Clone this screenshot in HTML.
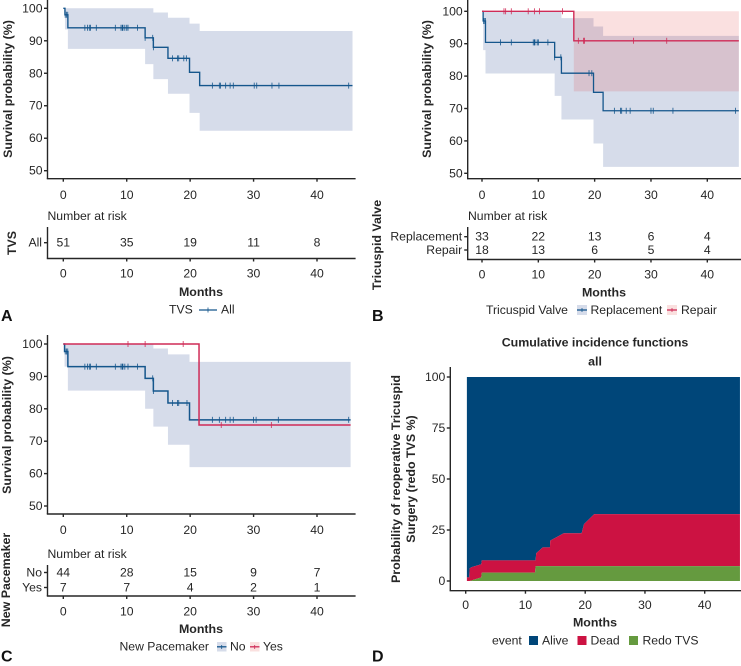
<!DOCTYPE html>
<html lang="en">
<head>
<meta charset="utf-8">
<title>Survival and cumulative incidence panels</title>
<style>
html,body{margin:0;padding:0;background:#fff;width:741px;height:666px;overflow:hidden}
svg{display:block;font-family:"Liberation Sans",sans-serif;fill:#262626;font-size:12.2px}
.ttl{font-weight:bold;font-size:12.4px}
.let{font-weight:bold;font-size:16px;fill:#111}
</style>
</head>
<body>
<svg id="figure" xmlns="http://www.w3.org/2000/svg" width="741" height="666" viewBox="0 0 741 666">
  <g id="static-labels">
    <text x="8" y="89" class="ttl" text-anchor="middle" dominant-baseline="central" transform="rotate(-90 8 89)">Survival probability (%)</text>
    <text x="47.5" y="216" dominant-baseline="central">Number at risk</text>
    <text x="12" y="243" class="ttl" text-anchor="middle" dominant-baseline="central" transform="rotate(-90 12 243)">TVS</text>
    <text x="201" y="292" class="ttl" text-anchor="middle" dominant-baseline="central">Months</text>
    <text x="169" y="309.5" dominant-baseline="central">TVS</text>
    <g>
      <line x1="199" x2="217" y1="310" y2="310" stroke="#15568c" stroke-width="1.3"/>
      <line x1="208" x2="208" y1="307.5" y2="312.5" stroke="#15568c" stroke-width="0.8"/>
    </g>
    <text x="221" y="309.5" dominant-baseline="central">All</text>
    <text x="1" y="316.5" class="let" dominant-baseline="central">A</text>

    <text x="427" y="89" class="ttl" text-anchor="middle" dominant-baseline="central" transform="rotate(-90 427 89)">Survival probability (%)</text>
    <text x="468" y="216" dominant-baseline="central">Number at risk</text>
    <text x="377" y="245" class="ttl" text-anchor="middle" dominant-baseline="central" transform="rotate(-90 377 245)">Tricuspid Valve</text>
    <text x="604" y="292.5" class="ttl" text-anchor="middle" dominant-baseline="central">Months</text>
    <text x="486" y="310" dominant-baseline="central">Tricuspid Valve</text>
    <g>
      <rect x="577" y="305" width="10" height="10" fill="#d6dcea"/>
      <line x1="577" x2="587" y1="310" y2="310" stroke="#15568c" stroke-width="1.3"/>
      <line x1="582" x2="582" y1="308" y2="312" stroke="#15568c" stroke-width="0.8"/>
    </g>
    <text x="590.5" y="310" dominant-baseline="central">Replacement</text>
    <g>
      <rect x="667" y="305" width="10" height="10" fill="#fae0df"/>
      <line x1="667" x2="677" y1="310" y2="310" stroke="#cf2b57" stroke-width="1.3"/>
      <line x1="672" x2="672" y1="308" y2="312" stroke="#cf2b57" stroke-width="0.8"/>
    </g>
    <text x="681" y="310" dominant-baseline="central">Repair</text>
    <text x="372" y="316.5" class="let" dominant-baseline="central">B</text>

    <text x="7" y="425" class="ttl" text-anchor="middle" dominant-baseline="central" transform="rotate(-90 7 425)">Survival probability (%)</text>
    <text x="47.5" y="554" dominant-baseline="central">Number at risk</text>
    <text x="6" y="580" class="ttl" text-anchor="middle" dominant-baseline="central" transform="rotate(-90 6 580)">New Pacemaker</text>
    <text x="201" y="629" class="ttl" text-anchor="middle" dominant-baseline="central">Months</text>
    <text x="119.5" y="646.5" dominant-baseline="central">New Pacemaker</text>
    <g>
      <rect x="217" y="642" width="9.5" height="9.5" fill="#d6dcea"/>
      <line x1="217" x2="226.5" y1="646.8" y2="646.8" stroke="#15568c" stroke-width="1.3"/>
      <line x1="221.7" x2="221.7" y1="645" y2="649" stroke="#15568c" stroke-width="0.8"/>
    </g>
    <text x="230" y="646.5" dominant-baseline="central">No</text>
    <g>
      <rect x="250" y="642" width="9.5" height="9.5" fill="#fae0df"/>
      <line x1="250" x2="259.5" y1="646.8" y2="646.8" stroke="#cf2b57" stroke-width="1.3"/>
      <line x1="254.7" x2="254.7" y1="645" y2="649" stroke="#cf2b57" stroke-width="0.8"/>
    </g>
    <text x="263" y="646.5" dominant-baseline="central">Yes</text>
    <text x="1" y="657" class="let" dominant-baseline="central">C</text>

    <text x="595" y="342.5" class="ttl" text-anchor="middle" dominant-baseline="central">Cumulative incidence functions</text>
    <text x="595" y="361.5" class="ttl" text-anchor="middle" dominant-baseline="central">all</text>
    <text x="396" y="479" class="ttl" text-anchor="middle" dominant-baseline="central" transform="rotate(-90 396 479)">Probability of reoperative Tricuspid</text>
    <text x="411" y="479" class="ttl" text-anchor="middle" dominant-baseline="central" transform="rotate(-90 411 479)">Surgery (redo TVS %)</text>
    <text x="595" y="622.5" class="ttl" text-anchor="middle" dominant-baseline="central">Months</text>
    <text x="492" y="640.5" dominant-baseline="central">event</text>
    <rect x="529" y="636" width="9" height="9" fill="#004679"/>
    <text x="542" y="640.5" dominant-baseline="central">Alive</text>
    <rect x="577.5" y="636" width="9" height="9" fill="#cc1242"/>
    <text x="590.5" y="640.5" dominant-baseline="central">Dead</text>
    <rect x="629" y="636" width="9" height="9" fill="#659a3f"/>
    <text x="642.5" y="640.5" dominant-baseline="central">Redo TVS</text>
    <text x="372" y="657" class="let" dominant-baseline="central">D</text>
  </g>
</svg>
<script>
// Shared tick labels
var monthTicks = [0, 10, 20, 30, 40];
var survivalTicks = [100, 90, 80, 70, 60, 50];
var cifTicks = [100, 75, 50, 25, 0];

// Panel A
var aTimes = [0, 0.26, 0.72, 12.9, 14.2, 16.5, 19.9, 21.5];
var aSurvival = [100, 98, 94, 90.9, 88, 84.6, 80.3, 76.2];
var aUpper = [100, 100, 100, 100, 98.7, 97.1, 95.3, 93];
var aLower = [100, 93.5, 87.5, 82.8, 78.2, 73.7, 67.8, 62.3];
var aCensored = [0.3, 0.5, 0.7, 3.4, 3.8, 4.1, 4.3, 5.2, 8.2, 9.1, 9.3, 9.4, 9.7, 10, 10.2, 11.7, 12.9, 14.1, 14.2, 17.2, 18, 18.2, 19, 19.4, 23.5, 24.6, 24.8, 25.6, 26.3, 26.8, 30.1, 30.5, 32.9, 34, 45];
var aEnd = [45.6];
var aRiskAll = [51, 35, 19, 11, 8];

// Panel B
var bReplacementTimes = [0, 0.2, 0.62, 12.9, 14.1, 19.8, 21.5];
var bReplacementSurvival = [100, 97, 90.4, 85.8, 80.9, 75, 69.3];
var bReplacementUpper = [100, 100, 100, 100, 97.9, 95.3, 92.4];
var bReplacementLower = [100, 88, 80.8, 73.9, 66.6, 59.2, 52];
var bReplacementCensored = [0.3, 0.5, 0.6, 3.3, 5.2, 9.1, 9.3, 9.4, 9.8, 10, 11.7, 12.9, 14, 19, 19.5, 23.5, 24.6, 24.8, 25.6, 26.3, 30, 30.4, 33.9, 45];
var bRepairTimes = [0, 16.3];
var bRepairSurvival = [100, 90.9];
var bRepairUpper = [100, 100];
var bRepairLower = [100, 75.3];
var bRepairCensored = [3.9, 4.2, 5.2, 8.2, 9.3, 10.2, 14.3, 17.1, 18, 18.2, 26.9, 32.8];
var bEnd = [45.6];
var bRiskReplacement = [33, 22, 13, 6, 4];
var bRiskRepair = [18, 13, 6, 5, 4];

// Panel C
var cNoTimes = [0, 0.2, 0.72, 12.9, 14.2, 16.5, 19.9];
var cNoSurvival = [100, 97.7, 93, 89.4, 85.5, 81.8, 76.6];
var cNoUpper = [100, 100, 100, 100, 98.6, 96.8, 94.5];
var cNoLower = [100, 93, 85.6, 80, 74.5, 68.9, 62];
var cNoCensored = [0.3, 0.5, 0.7, 3.4, 3.8, 4.1, 4.3, 5.2, 8.2, 9.1, 9.3, 9.4, 9.7, 10.2, 11.7, 14.1, 14.2, 17.2, 18, 18.2, 19.5, 23.5, 24.6, 25.6, 26.3, 26.8, 30, 30.4, 33.9, 45];
var cYesTimes = [0, 21.4];
var cYesSurvival = [100, 75];
var cYesCensored = [10.2, 12.9, 18.9, 24.9, 32.8];
var cEnd = [45.3];
var cRiskNo = [44, 28, 15, 9, 7];
var cRiskYes = [7, 7, 4, 2, 1];

// Panel D
var dTimes = [0.2, 0.6, 0.65, 1, 2.6, 2.7, 11.6, 11.7, 11.8, 12.9, 14.1, 14.15, 16.4, 19.4, 19.8, 21.5, 45.9];
var dRedo = [0, 0, 0, 0.3, 1.8, 4.1, 4.1, 7.3, 7.3, 7.3, 7.3, 7.3, 7.3, 7.3, 7.3, 7.3, 7.3];
var dDead = [1.8, 1.8, 6.2, 6.5, 6.4, 6, 6, 2.8, 6.3, 9.2, 9.2, 12.5, 16.1, 16.1, 20.6, 25.5, 25.5];

var NS = 'http://www.w3.org/2000/svg';
var BLUE = '#15568c', RED = '#cf2b57', INK = '#262626';
var root = document.getElementById('figure');

function make(tag, attrs, parent) {
  var el = document.createElementNS(NS, tag);
  for (var k in attrs) el.setAttribute(k, attrs[k]);
  (parent || root).appendChild(el);
  return el;
}
function scale(d0, r0, d1, r1) {
  return function (v) { return r0 + (v - d0) * (r1 - r0) / (d1 - d0); };
}
function stepValue(times, values, t) {
  var out = values[0];
  for (var i = 0; i < times.length; i++) if (t >= times[i]) out = values[i];
  return out;
}
function stepPoints(times, values, end, x, y) {
  var pts = [];
  for (var i = 0; i < times.length; i++) {
    if (i > 0) pts.push(x(times[i]).toFixed(2) + ',' + y(values[i - 1]).toFixed(2));
    pts.push(x(times[i]).toFixed(2) + ',' + y(values[i]).toFixed(2));
  }
  pts.push(x(end).toFixed(2) + ',' + y(values[values.length - 1]).toFixed(2));
  return pts;
}
function drawBand(times, upper, lower, end, x, y, fill, name) {
  var top = stepPoints(times, upper, end, x, y);
  var bottom = stepPoints(times, lower, end, x, y).reverse();
  var band = make('polygon', { points: top.concat(bottom).join(' '), fill: fill });
  
  
}
function drawCurve(times, values, end, x, y, color, name, width) {
  var line = make('polyline', { points: stepPoints(times, values, end, x, y).join(' '), fill: 'none', stroke: color, 'stroke-width': width });
  
  
}
function drawCensors(censored, times, values, x, y, color, name) {
  for (var i = 0; i < censored.length; i++) {
    var px = x(censored[i]);
    var py = y(stepValue(times, values, censored[i]));
    var mark = make('line', { x1: px, x2: px, y1: py - 3, y2: py + 3, stroke: color, 'stroke-width': 0.8 });
    
    
  }
}
function label(x, y, text, anchor, name) {
  var t = make('text', { x: x, y: y, 'text-anchor': anchor, 'dominant-baseline': 'central' });
  t.textContent = text;
  
  
}
function axisLine(x1, y1, x2, y2, name) {
  var l = make('line', { x1: x1, y1: y1, x2: x2, y2: y2, stroke: INK, 'stroke-width': 1.4 });
  
  
}
function xAxis(x, left, right, baseline, labelY, name) {
  axisLine(left - 0.7, baseline, right, baseline, name + '-axis-line');
  monthTicks.forEach(function (m) {
    axisLine(x(m), baseline, x(m), baseline + 3, name + '-tick');
    label(x(m), labelY, String(m), 'middle', name + '-tick-label');
  });
}
function yAxis(y, ticks, axisX, top, bottom, name) {
  axisLine(axisX, top, axisX, bottom, name + '-axis-line');
  ticks.forEach(function (v) {
    axisLine(axisX - 3.5, y(v), axisX, y(v), name + '-tick');
    label(axisX - 5, y(v), String(v), 'end', name + '-tick-label');
  });
}
function riskRow(x, rowY, axisX, title, counts, name) {
  axisLine(axisX - 3.5, rowY, axisX, rowY, name + '-tick');
  label(axisX - 5.5, rowY, title, 'end', name + '-label');
  counts.forEach(function (c, i) {
    label(x(monthTicks[i]), rowY, String(c), 'middle', name + '-count');
  });
}

/* ---------- Panel A ---------- */
var ax = scale(0, 63.3, 40, 317);
var ay = scale(100, 8.3, 50, 170.7);
drawBand(aTimes, aUpper, aLower, aEnd[0], ax, ay, '#d6dcea', 'panel-a-confidence-band');
drawCurve(aTimes, aSurvival, aEnd[0], ax, ay, BLUE, 'panel-a-survival-curve', 1.4);
drawCensors(aCensored, aTimes, aSurvival, ax, ay, BLUE, 'panel-a-censor-mark');
yAxis(ay, survivalTicks, 47.5, 0, 178.7, 'panel-a-y');
xAxis(ax, 47.5, 355.6, 178.7, 195, 'panel-a-x');
axisLine(47.5, 227, 47.5, 258.5, 'panel-a-risk-y-axis-line');
riskRow(ax, 242.7, 47.5, 'All', aRiskAll, 'panel-a-risk-all');
xAxis(ax, 47.5, 355.6, 258.5, 273.5, 'panel-a-risk-x');

/* ---------- Panel B ---------- */
var bx = scale(0, 482, 40, 707.3);
var by = scale(100, 11.3, 50, 173.3);
drawBand(bReplacementTimes, bReplacementUpper, bReplacementLower, bEnd[0], bx, by, '#d6dcea', 'panel-b-replacement-band');
drawBand(bRepairTimes, bRepairUpper, bRepairLower, bEnd[0], bx, by, 'rgba(226,60,60,0.16)', 'panel-b-repair-band');
drawCurve(bReplacementTimes, bReplacementSurvival, bEnd[0], bx, by, BLUE, 'panel-b-replacement-curve', 1.3);
drawCensors(bReplacementCensored, bReplacementTimes, bReplacementSurvival, bx, by, BLUE, 'panel-b-replacement-censor-mark');
drawCurve(bRepairTimes, bRepairSurvival, bEnd[0], bx, by, RED, 'panel-b-repair-curve', 1.4);
drawCensors(bRepairCensored, bRepairTimes, bRepairSurvival, bx, by, RED, 'panel-b-repair-censor-mark');
yAxis(by, survivalTicks, 467.7, 0, 178.7, 'panel-b-y');
xAxis(bx, 467.7, 741, 178.7, 195, 'panel-b-x');
axisLine(467.7, 227, 467.7, 259.5, 'panel-b-risk-y-axis-line');
riskRow(bx, 236.7, 467.7, 'Replacement', bRiskReplacement, 'panel-b-risk-replacement');
riskRow(bx, 250, 467.7, 'Repair', bRiskRepair, 'panel-b-risk-repair');
xAxis(bx, 467.7, 741, 259.5, 274.5, 'panel-b-risk-x');

/* ---------- Panel C ---------- */
var cx = scale(0, 63.3, 40, 317);
var cy = scale(100, 344, 50, 506);
drawBand(cNoTimes, cNoUpper, cNoLower, cEnd[0], cx, cy, '#d6dcea', 'panel-c-no-band');
drawCurve(cNoTimes, cNoSurvival, cEnd[0], cx, cy, BLUE, 'panel-c-no-curve', 1.5);
drawCensors(cNoCensored, cNoTimes, cNoSurvival, cx, cy, BLUE, 'panel-c-no-censor-mark');
drawCurve(cYesTimes, cYesSurvival, cEnd[0], cx, cy, RED, 'panel-c-yes-curve', 1.5);
drawCensors(cYesCensored, cYesTimes, cYesSurvival, cx, cy, RED, 'panel-c-yes-censor-mark');
yAxis(cy, survivalTicks, 47.5, 335, 514, 'panel-c-y');
xAxis(cx, 47.5, 355.6, 514, 530, 'panel-c-x');
axisLine(47.5, 565, 47.5, 596, 'panel-c-risk-y-axis-line');
riskRow(cx, 572.5, 47.5, 'No', cRiskNo, 'panel-c-risk-no');
riskRow(cx, 587.5, 47.5, 'Yes', cRiskYes, 'panel-c-risk-yes');
xAxis(cx, 47.5, 355.6, 596, 611.5, 'panel-c-risk-x');

/* ---------- Panel D ---------- */
var dx = scale(0, 465.7, 40, 704.7);
var dy = scale(0, 581, 100, 377);
function areaPoints(upperValues, lowerValues) {
  var top = dTimes.map(function (t, i) { return dx(t).toFixed(2) + ',' + dy(upperValues[i]).toFixed(2); });
  var bottom = dTimes.map(function (t, i) { return dx(t).toFixed(2) + ',' + dy(lowerValues[i]).toFixed(2); }).reverse();
  return top.concat(bottom).join(' ');
}
var dZero = dTimes.map(function () { return 0; });
var dHundred = dTimes.map(function () { return 100; });
var dStack = dRedo.map(function (v, i) { return v + dDead[i]; });
var alive = make('polygon', { points: areaPoints(dHundred, dStack), fill: '#004679' });


var dead = make('polygon', { points: areaPoints(dStack, dRedo), fill: '#cc1242' });


var redo = make('polygon', { points: areaPoints(dRedo, dZero), fill: '#659a3f' });


yAxis(dy, cifTicks, 450.3, 367, 590.7, 'panel-d-y');
xAxis(dx, 450.3, 741, 590.7, 605, 'panel-d-x');
</script>
</body>
</html>
